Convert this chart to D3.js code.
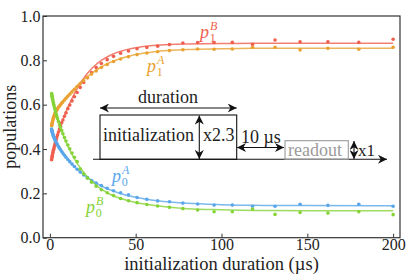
<!DOCTYPE html>
<html lang="en">
<head>
  <meta charset="UTF-8">
  <style>
    body { margin: 0; background: #fff; }
    svg { display: block; font-family: 'Liberation Serif', 'DejaVu Serif', serif; }
    svg text { font-family: 'Liberation Serif', 'DejaVu Serif', serif; fill: #222; }
    .tick line { stroke: #333; }
  </style>
</head>
<body>
  <script src="https://d3js.org/d3.v7.min.js"></script>
  <svg></svg>
  <script>

// sample times (µs)
const times = [1.0, 1.2, 1.3, 1.4, 1.6, 1.8, 2.0, 2.2, 2.4, 2.7, 3.0, 3.3, 3.7, 4.1, 4.5, 5.0, 5.6, 6.2, 6.9, 7.6,
  8.5, 9.4, 10.5, 11.6, 12.9, 14.3, 15.9, 17.7, 19.7, 21.9, 24.3, 27.0, 30.0, 33.4, 37.1, 41.2, 45.8, 50.8, 56.5, 62.8,
  69.7, 77.5, 86.1, 95.7, 106.3, 118.1, 131.2, 145.8, 162, 180, 200];

// measured populations
const p1B = [0.352, 0.36, 0.365, 0.37, 0.378, 0.385, 0.392, 0.398, 0.405, 0.414, 0.423, 0.432, 0.443, 0.454, 0.464, 0.477, 0.49, 0.503, 0.518, 0.531,
  0.548, 0.563, 0.582, 0.598, 0.617, 0.636, 0.655, 0.678, 0.70, 0.722, 0.745, 0.768, 0.786, 0.803, 0.818, 0.832, 0.842, 0.852, 0.858, 0.864,
  0.871, 0.878, 0.880, 0.880, 0.881, 0.872, 0.892, 0.884, 0.884, 0.881, 0.895];
const p1A = [0.505, 0.51, 0.515, 0.52, 0.526, 0.532, 0.538, 0.543, 0.548, 0.554, 0.56, 0.565, 0.571, 0.577, 0.582, 0.588, 0.594, 0.60, 0.607, 0.613,
  0.621, 0.629, 0.638, 0.647, 0.657, 0.668, 0.681, 0.694, 0.708, 0.722, 0.738, 0.752, 0.768, 0.781, 0.795, 0.806, 0.816, 0.826, 0.833, 0.839,
  0.844, 0.848, 0.851, 0.850, 0.851, 0.859, 0.859, 0.847, 0.854, 0.850, 0.859];
const p0A = [0.49, 0.485, 0.48, 0.476, 0.47, 0.465, 0.46, 0.456, 0.452, 0.446, 0.441, 0.436, 0.43, 0.424, 0.418, 0.411, 0.404, 0.397, 0.389, 0.381,
  0.372, 0.363, 0.353, 0.343, 0.332, 0.321, 0.309, 0.296, 0.283, 0.271, 0.258, 0.246, 0.235, 0.223, 0.212, 0.203, 0.193, 0.181, 0.173, 0.166,
  0.162, 0.156, 0.152, 0.147, 0.147, 0.142, 0.142, 0.151, 0.146, 0.151, 0.142];
const p0B = [0.65, 0.643, 0.638, 0.633, 0.625, 0.617, 0.61, 0.603, 0.596, 0.586, 0.577, 0.568, 0.557, 0.546, 0.536, 0.524, 0.51, 0.497, 0.483, 0.469,
  0.452, 0.436, 0.418, 0.401, 0.382, 0.363, 0.343, 0.31, 0.288, 0.268, 0.25, 0.232, 0.216, 0.203, 0.19, 0.177, 0.167, 0.158, 0.15, 0.143,
  0.137, 0.131, 0.125, 0.117, 0.117, 0.129, 0.105, 0.114, 0.111, 0.117, 0.104];

// fitted curves, read at a coarser grid
const fitTimes = [1, 2, 3, 4, 5, 6, 8, 10, 12, 15, 18, 21, 25, 30, 35, 40, 50, 60, 70, 80, 100, 120, 150, 200];
const fit1B = [0.36, 0.39, 0.42, 0.447, 0.472, 0.496, 0.54, 0.58, 0.613, 0.66, 0.70, 0.733, 0.768, 0.80, 0.822, 0.838, 0.857, 0.867, 0.872, 0.874, 0.876, 0.877, 0.877, 0.877];
const fit1A = [0.51, 0.535, 0.556, 0.573, 0.587, 0.60, 0.62, 0.638, 0.655, 0.68, 0.702, 0.722, 0.745, 0.77, 0.79, 0.805, 0.826, 0.838, 0.845, 0.849, 0.852, 0.854, 0.854, 0.854];
const fit0A = [0.48, 0.46, 0.442, 0.426, 0.412, 0.399, 0.376, 0.356, 0.338, 0.315, 0.294, 0.276, 0.255, 0.233, 0.216, 0.202, 0.182, 0.169, 0.161, 0.155, 0.149, 0.146, 0.145, 0.144];
const fit0B = [0.64, 0.61, 0.58, 0.552, 0.526, 0.502, 0.459, 0.421, 0.389, 0.347, 0.312, 0.282, 0.25, 0.219, 0.196, 0.18, 0.159, 0.146, 0.137, 0.131, 0.126, 0.123, 0.122, 0.122];

const xTicks = [0, 50, 100, 150, 200];
const yTicks = [0, 0.2, 0.4, 0.6, 0.8, 1.0];

const series = [
  {data: p1B, fit: fit1B, color: "#ef5f4f", sub: "1", sup: "B", lx: 200, ly: 38},
  {data: p1A, fit: fit1A, color: "#e9a232", sub: "1", sup: "A", lx: 147, ly: 72},
  {data: p0A, fit: fit0A, color: "#5aa6ea", sub: "0", sup: "A", lx: 112, ly: 182},
  {data: p0B, fit: fit0B, color: "#85d336", sub: "0", sup: "B", lx: 86, ly: 213}
];

const w = 415, h = 279;
const mLeft = 43, mRight = 400, mTop = 16, mBottom = 237.7;
const serif = "'Liberation Serif', 'DejaVu Serif', serif";

const svg = d3.select("svg").attr("width", w).attr("height", h);

const x = d3.scaleLinear().domain([-4, 204]).range([mLeft, mRight]);
const y = d3.scaleLinear().domain([0, 1]).range([mBottom, mTop]);

// helper so every text gets the serif face explicitly
function txt(sel, px, py, s, size) {
  return sel.append("text")
    .attr("x", px).attr("y", py)
    .style("font-family", serif)
    .style("font-size", size + "px")
    .style("fill", "#222")
    .text(s);
}

// axes with inward ticks
svg.append("g")
   .attr("transform", `translate(0,${mBottom})`)
   .call(d3.axisBottom(x).tickValues(xTicks).tickSizeInner(-4).tickSizeOuter(0).tickPadding(1).tickFormat(d3.format("d")))
   .call(g => g.select(".domain").remove());

svg.append("g")
   .attr("transform", `translate(${mLeft},0)`)
   .call(d3.axisLeft(y).tickValues(yTicks).tickSizeInner(-4).tickSizeOuter(0).tickPadding(2.5).tickFormat(d3.format(".1f")))
   .call(g => g.select(".domain").remove());

svg.selectAll(".tick text")
   .style("font-family", serif)
   .style("font-size", "16px")
   .style("fill", "#222");

svg.append("rect")
   .attr("x", mLeft).attr("y", mTop)
   .attr("width", mRight - mLeft).attr("height", mBottom - mTop)
   .attr("fill", "none").attr("stroke", "#333").attr("stroke-width", 1.2);

// fits and points
const line = d3.line().curve(d3.curveMonotoneX);

series.forEach(s => {
  svg.append("path")
     .attr("d", line(fitTimes.map((t, i) => [x(t), y(s.fit[i])])))
     .attr("fill", "none")
     .attr("stroke", s.color)
     .attr("stroke-opacity", 0.8)
     .attr("stroke-width", 1.5);

  svg.append("g")
     .selectAll("circle")
     .data(s.data)
     .enter()
     .append("circle")
     .attr("cx", (d, i) => x(times[i]))
     .attr("cy", d => y(d))
     .attr("r", 1.8)
     .attr("fill", s.color);

  // p with stacked super- and subscript in one text element
  const lab = txt(svg, s.lx, s.ly, "", 18).style("fill", s.color);
  lab.append("tspan").style("font-style", "italic").text("p");
  lab.append("tspan").attr("dx", 1).attr("dy", -8)
     .style("font-style", "italic").style("font-size", "12px").text(s.sup);
  lab.append("tspan").attr("dx", -7.5).attr("dy", 12)
     .style("font-size", "12px").text(s.sub);
});

// pulse-sequence sketch
svg.append("defs").append("marker")
   .attr("id", "arrowK")
   .attr("viewBox", "0 0 10 10")
   .attr("refX", 10).attr("refY", 5)
   .attr("markerWidth", 9).attr("markerHeight", 9)
   .attr("markerUnits", "userSpaceOnUse")
   .attr("orient", "auto-start-reverse")
   .append("path")
   .attr("d", "M0,0 L10,5 L0,10 L3,5 Z")
   .attr("fill", "#111");

const sk = svg.append("g");
function arrow(x1, y1, x2, y2, both) {
  const l = sk.append("line")
    .attr("x1", x1).attr("y1", y1).attr("x2", x2).attr("y2", y2)
    .attr("stroke", "#111").attr("stroke-width", 1.1)
    .attr("marker-end", "url(#arrowK)");
  if (both) l.attr("marker-start", "url(#arrowK)");
}

// time axis of the sketch
arrow(93, 159.3, 387, 159.3, false);
// initialization box
sk.append("rect").attr("x", 100).attr("y", 115).attr("width", 136.7).attr("height", 44.3)
  .attr("fill", "none").attr("stroke", "#111").attr("stroke-width", 1.1);
txt(sk, 103, 141, "initialization", 18);
arrow(199.3, 115.5, 199.3, 159, true);
txt(sk, 203, 141, "x2.3", 18);
// duration
arrow(100, 108, 236.7, 108, true);
txt(sk, 168, 103, "duration", 18).attr("text-anchor", "middle");
// 10 µs gap
arrow(237, 147.5, 284, 147.5, true);
txt(sk, 241, 143, "10 µs", 18);
// readout box
sk.append("rect").attr("x", 285).attr("y", 140.7).attr("width", 63.3).attr("height", 18.6)
  .attr("fill", "none").attr("stroke", "#9a9a9a").attr("stroke-width", 1.1);
txt(sk, 288, 155.5, "readout", 18).style("fill", "#9a9a9a");
arrow(354, 141, 354, 159, true);
txt(sk, 358, 155.5, "x1", 17);

// axis labels
txt(svg, (mLeft + mRight) / 2, 270, "initialization duration (µs)", 18.5).attr("text-anchor", "middle");
txt(svg, 0, 0, "populations", 18)
   .attr("text-anchor", "middle")
   .attr("transform", `translate(16,${(mTop + mBottom) / 2}) rotate(-90)`);

  </script>
</body>
</html>
